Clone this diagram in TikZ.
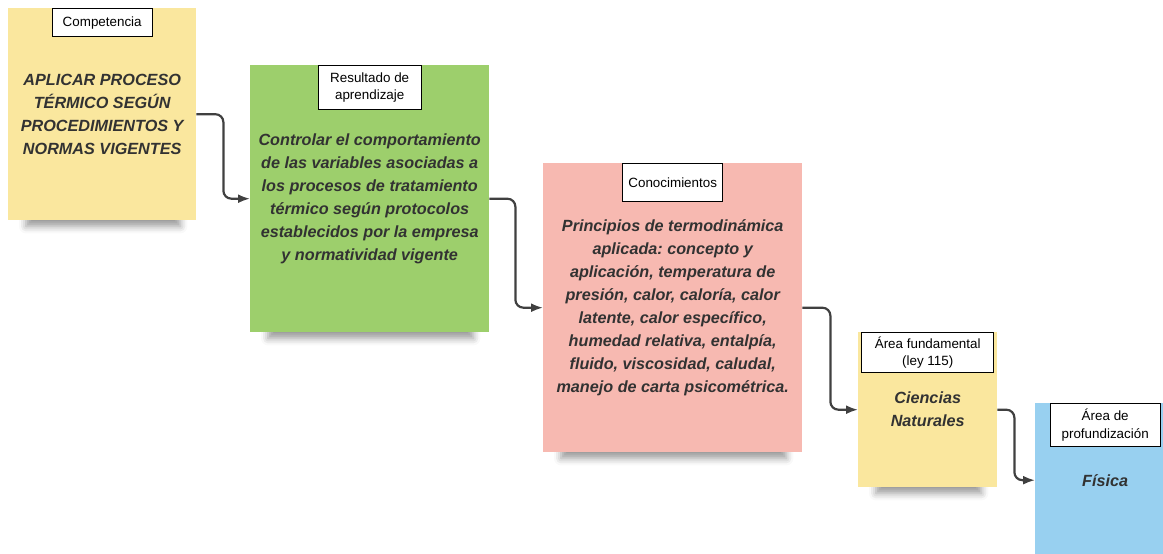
\documentclass[tikz,border=0pt]{standalone}
\usepackage{fontspec}
\setmainfont{Liberation Sans}
\usepackage{xcolor}
\usetikzlibrary{
  positioning,
  arrows.meta,
  shadows.blur
}
\definecolor{cardyellow}{RGB}{250,231,158}
\definecolor{cardgreen}{RGB}{157,207,108}
\definecolor{cardpink}{RGB}{247,185,177}
\definecolor{cardblue}{RGB}{152,208,240}
\definecolor{cardtext}{RGB}{50,50,50}
\definecolor{flowgray}{RGB}{64,64,64}
\pgfdeclarelayer{back}
\pgfsetlayers{back,main}
\frenchspacing
\tikzset{
  card/.style={anchor=north west,align=center,text=cardtext,inner sep=4pt,
    font=\fontsize{16.2}{23}\selectfont\bfseries\itshape},
  tag/.style={anchor=north,draw=black,line width=1.2pt,fill=white,align=center,
    inner sep=2pt,font=\fontsize{13.4}{17.5}\selectfont},
  flow/.style={draw=flowgray,line width=2.2pt,rounded corners=8pt,
    -{Latex[length=12pt,width=9pt]}}
}

\begin{document}
\begin{tikzpicture}[x=1pt,y=-1pt]
    \useasboundingbox (0,0) rectangle (1163,554);
    % cards
    \node[card,fill=cardyellow,minimum width=188pt,minimum height=212pt] (comp) at (8,8)
        {APLICAR PROCESO\\T\'ERMICO SEG\'UN\\PROCEDIMIENTOS Y\\NORMAS VIGENTES};
    \node[card,fill=cardgreen,minimum width=239pt,minimum height=267pt] (res) at (250,65)
        {Controlar el comportamiento\\de las variables asociadas a\\los procesos de tratamiento\\t\'ermico seg\'un protocolos\\establecidos por la empresa\\y normatividad vigente};
    \node[card,fill=cardpink,minimum width=259pt,minimum height=289pt] (con) at (543,163)
        {Principios de termodin\'amica\\aplicada: concepto y\\aplicaci\'on, temperatura de\\presi\'on, calor, calor\'ia, calor\\latente, calor espec\'ifico,\\humedad relativa, entalp\'ia,\\fluido, viscosidad, caludal,\\manejo de carta psicom\'etrica.};
    \node[card,fill=cardyellow,minimum width=139pt,minimum height=155pt] (area) at (858,332)
        {Ciencias\\Naturales};
    \node[card,fill=cardblue,minimum width=140pt,minimum height=154pt] (prof) at (1035,403)
        {F\'isica};
    % labels
    \node[tag,minimum width=100pt,minimum height=28pt] (compt) at (comp.north) {Competencia};
    \node[tag,minimum width=103pt,minimum height=44pt] (rest) at (res.north) {Resultado de\\aprendizaje};
    \node[tag,minimum width=100pt,minimum height=38pt] (cont) at (con.north) {Conocimientos};
    \node[tag,minimum width=132pt,minimum height=40pt] (areat) at (area.north) {\'Area fundamental\\(ley 115)};
    \node[tag,minimum width=110pt,minimum height=43pt] (proft) at (prof.north) {\'Area de\\profundizaci\'on};
    % shadows
    \begin{pgfonlayer}{back}
        \foreach \n in {comp,res,con,area} {
            \path[blur shadow={shadow xshift=0pt,shadow yshift=0pt,shadow blur radius=7pt,shadow opacity=40}]
                ([xshift=18pt,yshift=10pt]\n.south west) rectangle ([xshift=-16pt,yshift=-6pt]\n.south east);
        }
    \end{pgfonlayer}
    % arrows
    \draw[flow] (comp.east) -- ++(27,0) |- (res.west);
    \draw[flow] (res.east) -- ++(26,0) |- (con.west);
    \draw[flow] (con.east) -- ++(28,0) |- (area.west);
    \draw[flow] (area.east) -- ++(17,0) |- (prof.west);
\end{tikzpicture}
\end{document}
